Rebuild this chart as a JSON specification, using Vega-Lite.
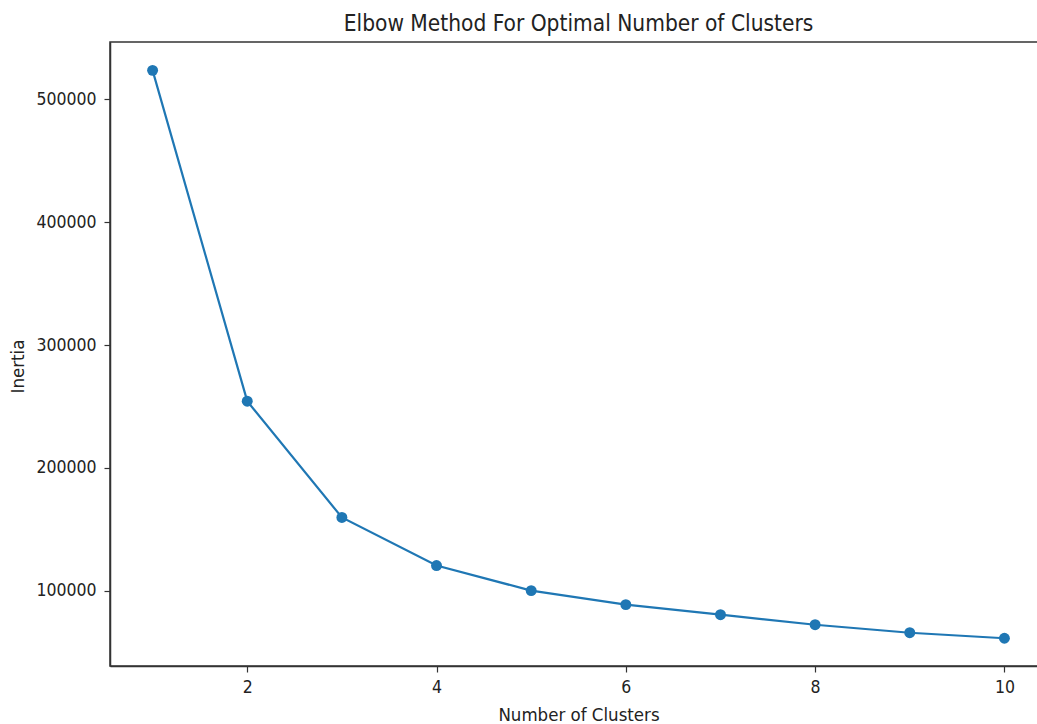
{
  "$schema": "https://vega.github.io/schema/vega-lite/v6.json",
  "autosize": {"type": "none"},
  "padding": {"left": 110, "top": 42, "right": 0, "bottom": 58},
  "width": 937,
  "height": 624,
  "background": "white",
  "title": {
    "text": "Elbow Method For Optimal Number of Clusters",
    "font": "DejaVu Sans Condensed",
    "fontSize": 22.5,
    "fontWeight": "normal",
    "color": "#222222",
    "anchor": "middle",
    "offset": 7
  },
  "config": {
    "view": {"stroke": "#333333", "strokeWidth": 1.5},
    "axis": {
      "labelFont": "DejaVu Sans Condensed",
      "labelFontSize": 17.5,
      "labelColor": "#222222",
      "titleFont": "DejaVu Sans Condensed",
      "titleFontSize": 18.5,
      "titleFontWeight": "normal",
      "titleColor": "#222222",
      "domainColor": "#333333",
      "domainWidth": 1.5,
      "tickColor": "#333333",
      "tickWidth": 1.2,
      "tickSize": 6,
      "grid": false
    }
  },
  "data": {
    "values": [
      {"k": 1, "inertia": 523700},
      {"k": 2, "inertia": 254300},
      {"k": 3, "inertia": 159600},
      {"k": 4, "inertia": 120400},
      {"k": 5, "inertia": 100000},
      {"k": 6, "inertia": 88600},
      {"k": 7, "inertia": 80400},
      {"k": 8, "inertia": 72200},
      {"k": 9, "inertia": 65700},
      {"k": 10, "inertia": 61200}
    ]
  },
  "encoding": {
    "x": {
      "field": "k",
      "type": "quantitative",
      "scale": {"domain": [0.55, 10.45], "nice": false, "zero": false},
      "axis": {"values": [2, 4, 6, 8, 10], "title": "Number of Clusters", "labelPadding": 6, "titlePadding": 10}
    },
    "y": {
      "field": "inertia",
      "type": "quantitative",
      "scale": {"domain": [38600, 546800], "nice": false, "zero": false},
      "axis": {"values": [100000, 200000, 300000, 400000, 500000], "format": "d", "title": "Inertia", "labelPadding": 8, "titleX": -83, "titleY": 324}
    }
  },
  "layer": [
    {"mark": {"type": "line", "color": "#1f77b4", "strokeWidth": 2.2}},
    {"mark": {"type": "point", "filled": true, "color": "#1f77b4", "opacity": 1, "size": 120}}
  ]
}
